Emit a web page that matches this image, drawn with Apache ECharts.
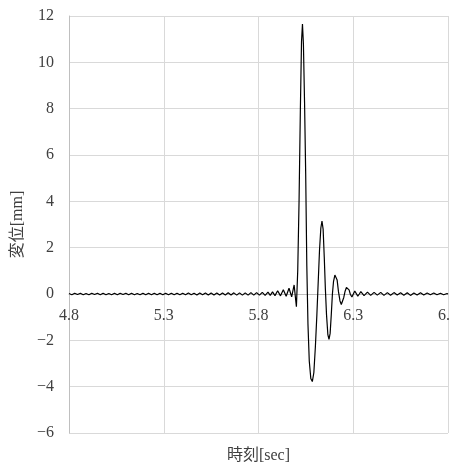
<!DOCTYPE html>
<html>
<head>
<meta charset="utf-8">
<script src="https://cdn.jsdelivr.net/npm/echarts@6/dist/echarts.min.js"></script>
<style>
html,body{margin:0;padding:0;background:#fff;}
#chart{width:449px;height:465px;}
</style>
</head>
<body>
<div id="chart"></div>
<script>
// Time samples [sec]
var time = [
  4.800, 4.815, 4.830, 4.845, 4.860, 4.875, 4.890, 4.905, 4.920, 4.935,
  4.950, 4.965, 4.980, 4.995, 5.010, 5.025, 5.040, 5.055, 5.070, 5.085,
  5.100, 5.115, 5.130, 5.145, 5.160, 5.175, 5.190, 5.205, 5.220, 5.235,
  5.250, 5.265, 5.280, 5.295, 5.310, 5.325, 5.340, 5.355, 5.370, 5.385,
  5.400, 5.415, 5.430, 5.445, 5.460, 5.475, 5.490, 5.505, 5.520, 5.535,
  5.550, 5.565, 5.580, 5.595, 5.610, 5.625, 5.640, 5.655, 5.670, 5.685,
  5.700, 5.715, 5.730, 5.745, 5.760, 5.775, 5.790, 5.805, 5.820, 5.835,
  5.850, 5.862, 5.874, 5.887, 5.901, 5.916, 5.931, 5.946, 5.961, 5.975,
  5.988, 6.000, 6.007, 6.014, 6.021, 6.027, 6.032, 6.037, 6.043, 6.049,
  6.055, 6.061, 6.068, 6.076, 6.084, 6.092, 6.100, 6.108, 6.115, 6.122,
  6.129, 6.135, 6.141, 6.147, 6.153, 6.159, 6.166, 6.172, 6.178, 6.184,
  6.190, 6.196, 6.203, 6.209, 6.215, 6.222, 6.230, 6.237, 6.243, 6.250,
  6.257, 6.264, 6.271, 6.278, 6.285, 6.293, 6.300, 6.308, 6.316, 6.324,
  6.332, 6.340, 6.357, 6.375, 6.392, 6.410, 6.427, 6.445, 6.462, 6.480,
  6.497, 6.515, 6.532, 6.550, 6.567, 6.585, 6.602, 6.620, 6.637, 6.655,
  6.672, 6.690, 6.707, 6.725, 6.742, 6.760, 6.777, 6.795, 6.800
];
// Displacement [mm]
var disp = [
  0.02, -0.03, 0.03, -0.02, 0.03, -0.03, 0.02, -0.03, 0.03, -0.02,
  0.03, -0.03, 0.03, -0.03, 0.02, -0.03, 0.03, -0.03, 0.03, -0.02,
  0.03, -0.03, 0.03, -0.03, 0.02, -0.03, 0.03, -0.03, 0.03, -0.03,
  0.03, -0.03, 0.03, -0.03, 0.03, -0.03, 0.03, -0.03, 0.03, -0.03,
  0.03, -0.03, 0.04, -0.03, 0.03, -0.04, 0.04, -0.03, 0.04, -0.04,
  0.04, -0.04, 0.04, -0.04, 0.04, -0.04, 0.05, -0.04, 0.05, -0.05,
  0.05, -0.05, 0.05, -0.05, 0.06, -0.05, 0.06, -0.05, 0.07, -0.06,
  0.08, -0.06, 0.09, -0.07, 0.14, -0.08, 0.18, -0.10, 0.25, -0.12,
  0.39, -0.55, 1.0, 4.0, 8.0, 10.9, 11.65, 10.8, 8.3, 5.2,
  1.2, -1.3, -2.9, -3.65, -3.78, -3.4, -2.3, -0.9, 0.5, 1.9,
  2.85, 3.15, 2.8, 1.6, 0.2, -0.9, -1.75, -1.96, -1.7, -0.9,
  0.0, 0.55, 0.82, 0.86, 0.6, 0.1, -0.3, -0.45, -0.42, -0.15,
  0.12, 0.28, 0.32, 0.18, -0.02, -0.13, -0.05, 0.13, 0.05, -0.09,
  0.0, 0.10, -0.07, 0.08, -0.06, 0.07, -0.05, 0.07, -0.06, 0.06,
  -0.05, 0.06, -0.04, 0.05, -0.05, 0.05, -0.06, 0.04, -0.04, 0.05,
  -0.04, 0.04, -0.03, 0.04, -0.03, 0.03, -0.03, 0.02, 0.0
];
var xTicks = [4.8, 5.3, 5.8, 6.3, 6.8];
var yTicks = [-6, -4, -2, 0, 2, 4, 6, 8, 10, 12];
var xName = '時刻[sec]';
var yName = '変位[mm]';

var points = time.map(function (t, i) { return [t, disp[i]]; });
var FONT = '"Liberation Serif", "Noto Sans CJK JP", serif';
var chart = echarts.init(document.getElementById('chart'), null, {renderer: 'canvas'});
chart.setOption({
  animation: false,
  backgroundColor: '#ffffff',
  grid: {left: 69, right: 1, top: 16, bottom: 32, containLabel: false, outerBoundsMode: 'none'},
  xAxis: {
    type: 'value',
    min: xTicks[0], max: xTicks[xTicks.length - 1],
    interval: xTicks[1] - xTicks[0],
    axisLine: {show: true, onZero: true, lineStyle: {color: '#bfbfbf', width: 1}},
    axisTick: {show: false},
    axisLabel: {
      color: '#404040', fontFamily: FONT, fontSize: 16, margin: -125,
      hideOverlap: false,
      formatter: function (v) { return v.toFixed(1); }
    },
    splitLine: {show: true, lineStyle: {color: '#d9d9d9', width: 1}}
  },
  yAxis: {
    type: 'value',
    min: yTicks[0], max: yTicks[yTicks.length - 1],
    interval: yTicks[1] - yTicks[0],
    axisLine: {show: true, onZero: false, lineStyle: {color: '#bfbfbf', width: 1}},
    axisTick: {show: false},
    axisLabel: {
      color: '#404040', fontFamily: FONT, fontSize: 16, margin: 15,
      formatter: function (v) { return v < 0 ? '\u2212' + Math.abs(v) : String(v); }
    },
    splitLine: {show: true, lineStyle: {color: '#d9d9d9', width: 1}},
    name: yName,
    nameLocation: 'middle',
    nameGap: 42,
    nameTextStyle: {color: '#404040', fontFamily: FONT, fontSize: 16}
  },
  graphic: [{
    type: 'text',
    x: 258.5,
    y: 456,
    style: {
      text: xName,
      fill: '#404040',
      font: '16px ' + FONT,
      textAlign: 'center',
      textVerticalAlign: 'middle'
    }
  }],
  series: [{
    type: 'line',
    data: points,
    showSymbol: false,
    symbol: 'none',
    lineStyle: {color: '#000000', width: 1.2},
    z: 5
  }]
});
</script>
</body>
</html>
